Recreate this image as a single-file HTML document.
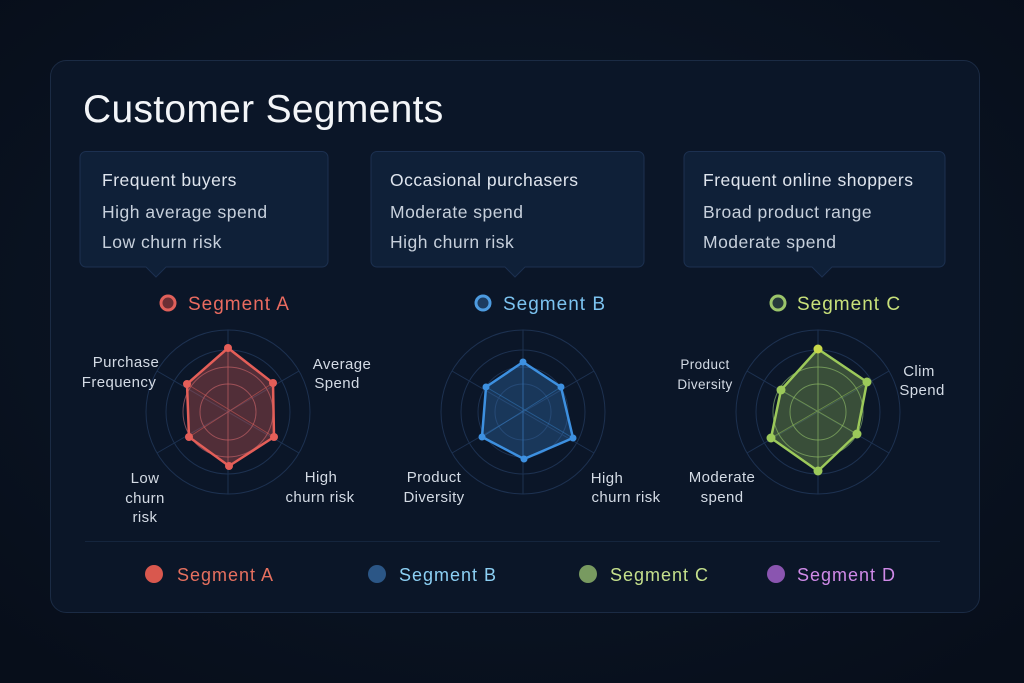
<!DOCTYPE html>
<html><head><meta charset="utf-8"><style>
html,body{margin:0;padding:0;background:#08111f;}
svg{display:block;font-family:"Liberation Sans",sans-serif;}
</style></head><body>
<svg width="1024" height="683" viewBox="0 0 1024 683" xmlns="http://www.w3.org/2000/svg">
<defs>
<radialGradient id="bg" cx="50%" cy="45%" r="70%"><stop offset="0" stop-color="#0e1a2c"/><stop offset="1" stop-color="#070e1a"/></radialGradient>
</defs>
<rect width="1024" height="683" fill="url(#bg)"/>
<rect x="50.5" y="60.5" width="929" height="552" rx="16" fill="#0b1628" stroke="#1b2b44"/>
<text x="83" y="122" font-size="39" fill="#f3f5f8" letter-spacing="0.3">Customer Segments</text>

<g fill="#0f2038" stroke="#1c3050">
<path d="M86 151.5 H322 a6 6 0 0 1 6 6 V261 a6 6 0 0 1 -6 6 H166 l-10 10 l-10 -10 H86 a6 6 0 0 1 -6 -6 V157.5 a6 6 0 0 1 6 -6z"/>
<path d="M377 151.5 H638 a6 6 0 0 1 6 6 V261 a6 6 0 0 1 -6 6 H525 l-10 10 l-10 -10 H377 a6 6 0 0 1 -6 -6 V157.5 a6 6 0 0 1 6 -6z"/>
<path d="M690 151.5 H939 a6 6 0 0 1 6 6 V261 a6 6 0 0 1 -6 6 H832 l-10 10 l-10 -10 H690 a6 6 0 0 1 -6 -6 V157.5 a6 6 0 0 1 6 -6z"/>
</g>
<g font-size="17.5" fill="#dfe5ee" letter-spacing="0.5">
<text x="102" y="186">Frequent buyers</text>
<text x="102" y="218" fill="#c7d0dc">High average spend</text>
<text x="102" y="248" fill="#c7d0dc">Low churn risk</text>
<text x="390" y="186">Occasional purchasers</text>
<text x="390" y="218" fill="#c7d0dc">Moderate spend</text>
<text x="390" y="248" fill="#c7d0dc">High churn risk</text>
<text x="703" y="186">Frequent online shoppers</text>
<text x="703" y="218" fill="#c7d0dc">Broad product range</text>
<text x="703" y="248" fill="#c7d0dc">Moderate spend</text>
</g>

<g letter-spacing="1">
<circle cx="168" cy="303" r="7" fill="#6b2f35" stroke="#e0605a" stroke-width="3"/>
<text x="188" y="310" font-size="19" fill="#ea6b60">Segment A</text>
<circle cx="483" cy="303" r="7" fill="#1d3c60" stroke="#4d9be0" stroke-width="3"/>
<text x="503" y="310" font-size="19" fill="#7cc3f0">Segment B</text>
<circle cx="778" cy="303" r="7" fill="#263a3c" stroke="#9bc56a" stroke-width="3"/>
<text x="797" y="310" font-size="19" fill="#c8e07a">Segment C</text>
</g>

<g fill="none" stroke="#1d3150" stroke-width="1">
<circle cx="228" cy="412" r="82"/><circle cx="228" cy="412" r="62"/><circle cx="228" cy="412" r="45"/><circle cx="228" cy="412" r="28"/>
<path d="M228 330 V494 M157 371 L299 453 M157 453 L299 371"/>
<circle cx="523" cy="412" r="82"/><circle cx="523" cy="412" r="62"/><circle cx="523" cy="412" r="45"/><circle cx="523" cy="412" r="28"/>
<path d="M523 330 V494 M452 371 L594 453 M452 453 L594 371"/>
<circle cx="818" cy="412" r="82"/><circle cx="818" cy="412" r="62"/><circle cx="818" cy="412" r="45"/><circle cx="818" cy="412" r="28"/>
<path d="M818 330 V494 M747 371 L889 453 M747 453 L889 371"/>
</g>

<polygon points="228,348 273,383 274,437 229,466 189,437 187,384" fill="#e0605a" fill-opacity="0.33" stroke="#e45e58" stroke-width="2.5" stroke-linejoin="round"/>
<g stroke="#e0605a" stroke-opacity="0.5" fill="none"><path d="M228 348 V466 M187 384 L274 437 M189 437 L273 383"/><circle cx="228" cy="412" r="28"/><circle cx="228" cy="412" r="45"/></g>
<g fill="#e45e58"><circle cx="228" cy="348" r="4"/><circle cx="273" cy="383" r="4"/><circle cx="274" cy="437" r="4"/><circle cx="229" cy="466" r="4"/><circle cx="189" cy="437" r="4"/><circle cx="187" cy="384" r="4"/></g>

<polygon points="523,362 561,387 573,438 524,459 482,437 486,387" fill="#3a86d0" fill-opacity="0.3" stroke="#3d90e0" stroke-width="2.5" stroke-linejoin="round"/>
<g stroke="#3d90e0" stroke-opacity="0.4" fill="none"><path d="M523 362 V459 M486 387 L573 438 M482 437 L561 387"/></g>
<g fill="#3d90e0"><circle cx="523" cy="362" r="3.5"/><circle cx="561" cy="387" r="3.5"/><circle cx="573" cy="438" r="3.5"/><circle cx="524" cy="459" r="3.5"/><circle cx="482" cy="437" r="3.5"/><circle cx="486" cy="387" r="3.5"/></g>

<polygon points="818,349 867,382 857,434 818,471 771,438 781,390" fill="#8fb85a" fill-opacity="0.35" stroke="#9cc95a" stroke-width="2.5" stroke-linejoin="round"/>
<g stroke="#9cc95a" stroke-opacity="0.5" fill="none"><path d="M818 349 V471 M781 390 L857 434 M771 438 L867 382"/><circle cx="818" cy="412" r="28"/><circle cx="818" cy="412" r="45"/></g>
<g fill="#9cc95a"><circle cx="818" cy="349" r="4.5" fill="#c8d84a"/><circle cx="867" cy="382" r="4.5"/><circle cx="857" cy="434" r="4.5"/><circle cx="818" cy="471" r="4.5"/><circle cx="771" cy="438" r="4.5"/><circle cx="781" cy="390" r="4.5"/></g>

<g font-size="15" fill="#d4dbe5" text-anchor="middle" letter-spacing="0.4">
<text x="126" y="367">Purchase</text><text x="119" y="387">Frequency</text>
<text x="342" y="369">Average</text><text x="337" y="388">Spend</text>
<text x="145" y="483">Low</text><text x="145" y="503">churn</text><text x="145" y="522">risk</text>
<text x="321" y="482">High</text><text x="320" y="502">churn risk</text>
<text x="434" y="482">Product</text><text x="434" y="502">Diversity</text>
<text x="607" y="483">High</text><text x="626" y="502">churn risk</text>
<text x="705" y="369" font-size="13.5">Product</text><text x="705" y="389" font-size="13.5">Diversity</text>
<text x="919" y="376">Clim</text><text x="922" y="395">Spend</text>
<text x="722" y="482">Moderate</text><text x="722" y="502">spend</text>
</g>

<line x1="85" y1="541.5" x2="940" y2="541.5" stroke="#15253d"/>
<g font-size="18" letter-spacing="1">
<circle cx="154" cy="574" r="9" fill="#d9584e"/>
<text x="177" y="581" fill="#e6705f">Segment A</text>
<circle cx="377" cy="574" r="9" fill="#2b5686"/>
<text x="399" y="581" fill="#8cd0f4">Segment B</text>
<circle cx="588" cy="574" r="9" fill="#789a60"/>
<text x="610" y="581" fill="#c5e08c">Segment C</text>
<circle cx="776" cy="574" r="9" fill="#8a55b0"/>
<text x="797" y="581" fill="#d08ae8">Segment D</text>
</g>
</svg>
</body></html>
